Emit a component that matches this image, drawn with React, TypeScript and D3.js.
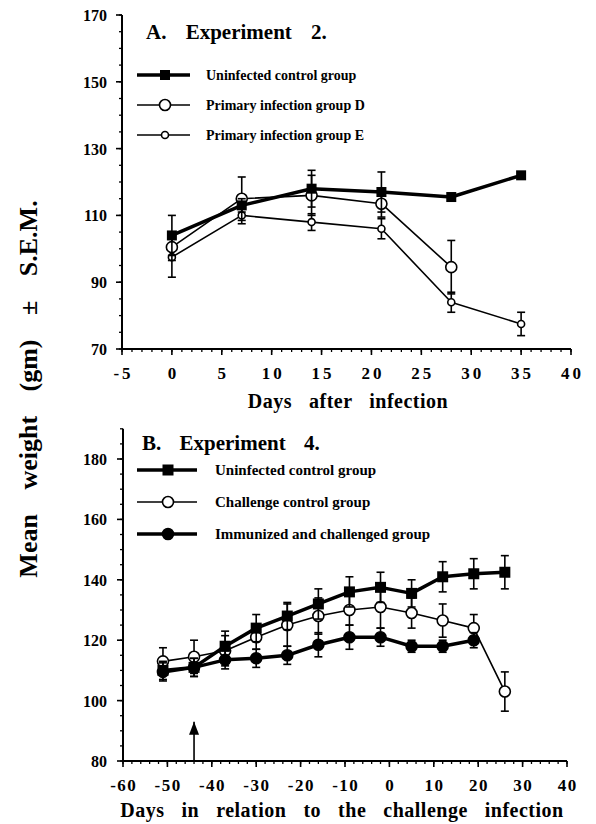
import React from "react";
import * as d3 from "d3";

const FONT = "'Liberation Serif', 'Times New Roman', Times, serif";

// Panel A — Experiment 2
const daysA = [0, 7, 14, 21, 28, 35];
const controlA = [104, 113, 118, 117, 115.5, 122];
const controlAErr = [6, 2, 5.5, 6, 1, 0.8];
const daysD = [0, 7, 14, 21, 28];
const groupD = [100.5, 115, 116, 113.5, 94.5];
const groupDErr = [4, 6.5, 6, 4, 8];
const daysE = [0, 7, 14, 21, 28, 35];
const groupE = [97.5, 110, 108, 106, 84, 77.5];
const groupEErr = [6, 2.5, 2.5, 3, 3, 3.5];
const xTicksA = [-5, 0, 5, 10, 15, 20, 25, 30, 35, 40];
const yTicksA = [70, 90, 110, 130, 150, 170];
const legendA = ["Uninfected control group", "Primary infection group D", "Primary infection group E"];

// Panel B — Experiment 4
const daysB = [-51, -44, -37, -30, -23, -16, -9, -2, 5, 12, 19, 26];
const controlB = [110, 111, 118, 124, 128, 132, 136, 137.5, 135.5, 141, 142, 142.5];
const controlBErr = [3, 3, 5, 4.5, 4.5, 5, 5, 5, 4.5, 5, 5, 5.5];
const challengeB = [113, 114.5, 116.5, 121, 125, 128, 130, 131, 129, 126.5, 124, 103];
const challengeBErr = [4.5, 5.5, 5, 4, 7, 6, 5, 7, 5, 5.5, 4.5, 6.5];
const daysImm = [-51, -44, -37, -30, -23, -16, -9, -2, 5, 12, 19];
const immunizedB = [109.5, 111, 113.5, 114, 115, 118.5, 121, 121, 118, 118, 120];
const immunizedBErr = [3, 3, 3, 3, 3, 4, 4, 3, 2, 2, 2.5];
const xTicksB = [-60, -50, -40, -30, -20, -10, 0, 10, 20, 30, 40];
const yTicksB = [80, 100, 120, 140, 160, 180];
const legendB = ["Uninfected control group", "Challenge control group", "Immunized and challenged group"];
const arrowDay = -44;

type Series = {
  days: number[];
  vals: number[];
  errs: number[];
  lineW: number;
  marker: "square" | "circle";
  size: number;
  fill: string;
};

function Marker({ x, y, s }: { x: number; y: number; s: Series }) {
  if (s.marker === "square") {
    return <rect x={x - s.size / 2} y={y - s.size / 2} width={s.size} height={s.size} fill="#000" />;
  }
  return <circle cx={x} cy={y} r={s.size} fill={s.fill} stroke="#000" strokeWidth={1.6} />;
}

function SeriesMarks({ s, x, y }: { s: Series; x: d3.ScaleLinear<number, number>; y: d3.ScaleLinear<number, number> }) {
  const pts: [number, number][] = s.days.map((d, i) => [x(d), y(s.vals[i])]);
  const line = d3.line()(pts) || "";
  return (
    <g>
      {s.days.map((d, i) => {
        const cx = x(d);
        const y1 = y(s.vals[i] + s.errs[i]);
        const y2 = y(s.vals[i] - s.errs[i]);
        return (
          <g key={"e" + i} stroke="#000" strokeWidth={1.6}>
            <line x1={cx} x2={cx} y1={y1} y2={y2} />
            <line x1={cx - 4} x2={cx + 4} y1={y1} y2={y1} />
            <line x1={cx - 4} x2={cx + 4} y1={y2} y2={y2} />
          </g>
        );
      })}
      <path d={line} fill="none" stroke="#000" strokeWidth={s.lineW} strokeLinejoin="round" />
      {pts.map((p, i) => (
        <Marker key={"m" + i} x={p[0]} y={p[1]} s={s} />
      ))}
    </g>
  );
}

function Axes({
  x, y, xTicks, yTicks, xMinorStep, yMinorStep, xLetter,
}: {
  x: d3.ScaleLinear<number, number>;
  y: d3.ScaleLinear<number, number>;
  xTicks: number[];
  yTicks: number[];
  xMinorStep: number;
  yMinorStep: number;
  xLetter: number;
}) {
  const [x0, x1] = x.domain();
  const [y0, y1] = y.domain();
  const xMinor = d3.range(x0, x1 + 0.001, xMinorStep);
  const yMinor = d3.range(y0, y1 + 0.001, yMinorStep);
  const xAxisY = y(y0);
  const yAxisX = x(x0);
  return (
    <g>
      <line x1={yAxisX} x2={x(x1)} y1={xAxisY} y2={xAxisY} stroke="#000" strokeWidth={2} />
      <line x1={yAxisX} x2={yAxisX} y1={xAxisY} y2={y(y1)} stroke="#000" strokeWidth={2} />
      {xMinor.map((t, i) => (
        <line key={"xm" + i} x1={x(t)} x2={x(t)} y1={xAxisY} y2={xAxisY + 3} stroke="#000" strokeWidth={1.3} />
      ))}
      {xTicks.map((t, i) => (
        <g key={"xt" + i}>
          <line x1={x(t)} x2={x(t)} y1={xAxisY} y2={xAxisY + 6} stroke="#000" strokeWidth={1.6} />
          <text
            x={x(t) + xLetter / 2}
            y={xAxisY + 30}
            textAnchor="middle"
            fontFamily={FONT}
            fontWeight="bold"
            fontSize={17}
            letterSpacing={xLetter}
          >
            {t < 0 ? "-" + Math.abs(t) : String(t)}
          </text>
        </g>
      ))}
      {yMinor.map((t, i) => (
        <line key={"ym" + i} x1={yAxisX - 3} x2={yAxisX} y1={y(t)} y2={y(t)} stroke="#000" strokeWidth={1.3} />
      ))}
      {yTicks.map((t, i) => (
        <g key={"yt" + i}>
          <line x1={yAxisX - 6} x2={yAxisX} y1={y(t)} y2={y(t)} stroke="#000" strokeWidth={1.6} />
          <text x={107} y={y(t) + 6} textAnchor="end" fontFamily={FONT} fontWeight="bold" fontSize={16}>
            {t}
          </text>
        </g>
      ))}
    </g>
  );
}

function Legend({ items, series, x0, x1, xm, xt, ys, fs }: {
  items: string[]; series: Series[]; x0: number; x1: number; xm: number; xt: number; ys: number[]; fs: number;
}) {
  return (
    <g>
      {items.map((label, i) => (
        <g key={i}>
          <line x1={x0} x2={x1} y1={ys[i]} y2={ys[i]} stroke="#000" strokeWidth={series[i].lineW} />
          <Marker x={xm} y={ys[i]} s={series[i]} />
          <text x={xt} y={ys[i] + fs * 0.33} fontFamily={FONT} fontWeight="bold" fontSize={fs}>
            {label}
          </text>
        </g>
      ))}
    </g>
  );
}

export default function App() {
  const xA = d3.scaleLinear().domain([-5, 40]).range([122, 571]);
  const yA = d3.scaleLinear().domain([70, 170]).range([349, 15]);
  const xB = d3.scaleLinear().domain([-60, 40]).range([123, 567]);
  const yB = d3.scaleLinear().domain([80, 190]).range([761, 428.8]);

  const sCtrlA: Series = { days: daysA, vals: controlA, errs: controlAErr, lineW: 3.5, marker: "square", size: 10, fill: "#000" };
  const sD: Series = { days: daysD, vals: groupD, errs: groupDErr, lineW: 1.6, marker: "circle", size: 5.5, fill: "#fff" };
  const sE: Series = { days: daysE, vals: groupE, errs: groupEErr, lineW: 1.6, marker: "circle", size: 3.5, fill: "#fff" };

  const sCtrlB: Series = { days: daysB, vals: controlB, errs: controlBErr, lineW: 3.5, marker: "square", size: 11, fill: "#000" };
  const sChal: Series = { days: daysB, vals: challengeB, errs: challengeBErr, lineW: 1.6, marker: "circle", size: 5.5, fill: "#fff" };
  const sImm: Series = { days: daysImm, vals: immunizedB, errs: immunizedBErr, lineW: 3.5, marker: "circle", size: 5.5, fill: "#000" };

  const ax = xB(arrowDay);
  const axisB = yB(80);

  return (
    <svg width={596} height={824} style={{ position: "absolute", left: 0, top: 0, background: "#fff" }}>
      <rect width={596} height={824} fill="#fff" />
      {/* y title */}
      <text
        transform="translate(37,389) rotate(-90)"
        textAnchor="middle"
        fontFamily={FONT}
        fontWeight="bold"
        fontSize={26}
        wordSpacing={18}
      >
        Mean weight (gm) ± S.E.M.
      </text>

      {/* Panel A */}
      <Axes x={xA} y={yA} xTicks={xTicksA} yTicks={yTicksA} xMinorStep={1} yMinorStep={5} xLetter={3} />
      <text x={146} y={39} fontFamily={FONT} fontWeight="bold" fontSize={21} wordSpacing={14}>
        A. Experiment 2.
      </text>
      <Legend items={legendA} series={[sCtrlA, sD, sE]} x0={137} x1={190} xm={165} xt={206} ys={[75, 105, 135]} fs={14} />
      <SeriesMarks s={sE} x={xA} y={yA} />
      <SeriesMarks s={sD} x={xA} y={yA} />
      <SeriesMarks s={sCtrlA} x={xA} y={yA} />
      <text x={348} y={408} textAnchor="middle" fontFamily={FONT} fontWeight="bold" fontSize={20} letterSpacing={0.5} wordSpacing={11.5}>
        Days after infection
      </text>

      {/* Panel B */}
      <Axes x={xB} y={yB} xTicks={xTicksB} yTicks={yTicksB} xMinorStep={2} yMinorStep={5} xLetter={1.5} />
      <text x={142} y={450} fontFamily={FONT} fontWeight="bold" fontSize={21} wordSpacing={13}>
        B. Experiment 4.
      </text>
      <Legend items={legendB} series={[sCtrlB, sChal, sImm]} x0={137} x1={197} xm={168} xt={215} ys={[470, 502, 534]} fs={15} />
      <SeriesMarks s={sChal} x={xB} y={yB} />
      <SeriesMarks s={sImm} x={xB} y={yB} />
      <SeriesMarks s={sCtrlB} x={xB} y={yB} />
      <line x1={ax} x2={ax} y1={axisB} y2={yB(93)} stroke="#000" strokeWidth={1.6} />
      <path d={`M${ax},${yB(93)} l-5,13 l10,0 z`} fill="#000" />
      <text x={342} y={817} textAnchor="middle" fontFamily={FONT} fontWeight="bold" fontSize={20} letterSpacing={0.5} wordSpacing={11.5}>
        Days in relation to the challenge infection
      </text>
    </svg>
  );
}
